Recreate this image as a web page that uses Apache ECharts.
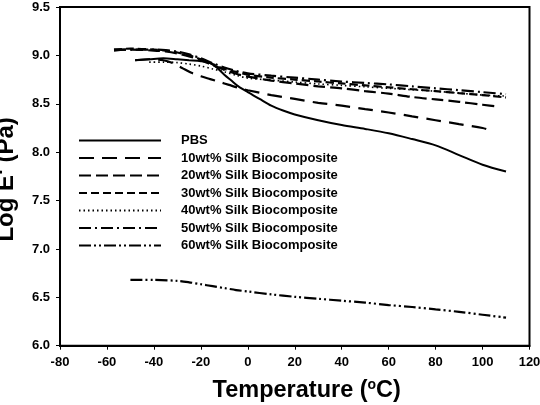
<!DOCTYPE html>
<html>
<head>
<meta charset="utf-8">
<script src="https://cdn.jsdelivr.net/npm/echarts@6/dist/echarts.min.js"></script>
<style>html,body{margin:0;padding:0;background:#fff}#c{width:540px;height:405px}</style>
</head>
<body>
<div id="c"></div>
<script>
const seriesNames = ['PBS','10wt% Silk Biocomposite','20wt% Silk Biocomposite','30wt% Silk Biocomposite','40wt% Silk Biocomposite','50wt% Silk Biocomposite','60wt% Silk Biocomposite'];
const xTicks = [-80,-60,-40,-20,0,20,40,60,80,100,120];
const yTicks = [6.0,6.5,7.0,7.5,8.0,8.5,9.0,9.5];

const pbsT = [-48,-42,-36,-30,-25,-20,-16,-13,-10,-7,-4,0,5,10,15,20,30,40,50,60,70,80,90,100,110];
const pbsV = [8.95,8.96,8.97,8.96,8.95,8.94,8.92,8.87,8.80,8.74,8.68,8.62,8.55,8.48,8.43,8.39,8.33,8.28,8.24,8.195,8.135,8.07,7.97,7.87,7.80];

const s10T = [-48,-42,-36,-32,-28,-24,-20,-16,-12,-8,-4,0,10,20,30,40,50,60,70,80,90,100,104];
const s10V = [8.95,8.96,8.95,8.92,8.87,8.82,8.785,8.755,8.725,8.695,8.665,8.64,8.59,8.55,8.51,8.48,8.445,8.41,8.37,8.33,8.29,8.25,8.22];

const s20T = [-57,-50,-40,-35,-30,-25,-20,-15,-10,-5,0,10,20,30,40,50,60,70,80,90,100,107];
const s20V = [9.05,9.06,9.05,9.04,9.02,8.99,8.95,8.90,8.85,8.81,8.78,8.74,8.71,8.68,8.66,8.63,8.605,8.57,8.545,8.52,8.49,8.47];

const s30T = [-57,-50,-40,-35,-30,-25,-20,-15,-10,-5,0,10,20,30,40,50,60,70,80,90,100,110];
const s30V = [9.06,9.07,9.06,9.05,9.03,9.00,8.96,8.91,8.86,8.83,8.80,8.77,8.75,8.73,8.71,8.69,8.67,8.65,8.63,8.61,8.59,8.565];

const s40T = [-42,-36,-30,-25,-20,-15,-10,-5,0,10,20,30,40,50,60,70,80,90,100,110];
const s40V = [8.93,8.93,8.925,8.91,8.89,8.86,8.83,8.795,8.765,8.745,8.725,8.705,8.69,8.675,8.66,8.645,8.63,8.61,8.59,8.58];

const s50T = [-57,-50,-40,-35,-30,-25,-20,-15,-10,-5,0,10,20,30,40,50,60,70,80,90,100,110];
const s50V = [9.06,9.06,9.06,9.055,9.04,9.01,8.97,8.92,8.875,8.84,8.815,8.79,8.77,8.75,8.73,8.715,8.70,8.68,8.66,8.64,8.62,8.60];

const s60T = [-50,-40,-30,-25,-20,-15,-10,-5,0,10,20,30,40,50,60,70,80,90,100,110];
const s60V = [6.68,6.68,6.67,6.655,6.635,6.615,6.595,6.575,6.56,6.53,6.505,6.485,6.465,6.445,6.42,6.40,6.375,6.35,6.32,6.29];

const allT = [pbsT,s10T,s20T,s30T,s40T,s50T,s60T];
const allV = [pbsV,s10V,s20V,s30V,s40V,s50V,s60V];
const dashes = ['solid',[15,8],[12,5],[8,4],[1.5,3],[12,4,2,4],[12,3,2,3,2,3]];
const widths = [2,2.2,2.2,2.2,1.6,2.2,2.2];

const font = 'Liberation Sans, Arial, sans-serif';
const chart = echarts.init(document.getElementById('c'), null, {renderer:'canvas'});
chart.setOption({
  animation:false,
  backgroundColor:'#fff',
  grid:{left:60,right:10.5,top:7,bottom:59.3,containLabel:false,outerBoundsMode:'none',show:true,borderColor:'#000',borderWidth:2,backgroundColor:'transparent'},
  legend:{
    orient:'vertical', left:78, top:134, padding:0, itemWidth:82, itemHeight:14, itemGap:4.5,
    data:seriesNames,
    itemStyle:{opacity:0},
    textStyle:{fontFamily:font,fontWeight:'bold',fontSize:13,color:'#000',padding:[0,0,0,15]}
  },
  xAxis:{
    type:'value', min:xTicks[0], max:xTicks[xTicks.length-1], interval:20,
    axisLine:{show:true,onZero:false,lineStyle:{color:'#000',width:2}},
    axisTick:{show:true,length:4,lineStyle:{color:'#000',width:1}},
    axisLabel:{margin:10,fontFamily:font,fontWeight:'bold',fontSize:13,color:'#000'},
    splitLine:{show:false},
    name:'{a|Temperature (}{b|o}{a|C)}', nameLocation:'middle', nameGap:32,
    nameTextStyle:{padding:[0,0,0,24],rich:{
      a:{fontFamily:font,fontWeight:'bold',fontSize:23.5,color:'#000',lineHeight:26},
      b:{fontFamily:font,fontWeight:'bold',fontSize:14,color:'#000',verticalAlign:'top',lineHeight:26,padding:[0,0,9,0]}
    }}
  },
  yAxis:{
    type:'value', min:yTicks[0], max:yTicks[yTicks.length-1], interval:0.5,
    axisLine:{show:true,onZero:false,lineStyle:{color:'#000',width:2}},
    axisTick:{show:true,length:4,lineStyle:{color:'#000',width:1}},
    axisLabel:{margin:10,fontFamily:font,fontWeight:'bold',fontSize:13,color:'#000',formatter:v=>v.toFixed(1)},
    splitLine:{show:false},
    name:"Log E' (Pa)", nameLocation:'middle', nameGap:42,
    nameTextStyle:{fontFamily:font,fontWeight:'bold',fontSize:24,color:'#000',padding:[0,6,0,0]}
  },
  series:seriesNames.map((n,i)=>({
    name:n, type:'line', showSymbol:false, symbol:'none', smooth:0.3,
    data:allT[i].map((t,j)=>[t,allV[i][j]]),
    lineStyle:{color:'#000',width:widths[i],type:dashes[i]},
    itemStyle:{color:'#000'}
  }))
});
</script>
</body>
</html>
